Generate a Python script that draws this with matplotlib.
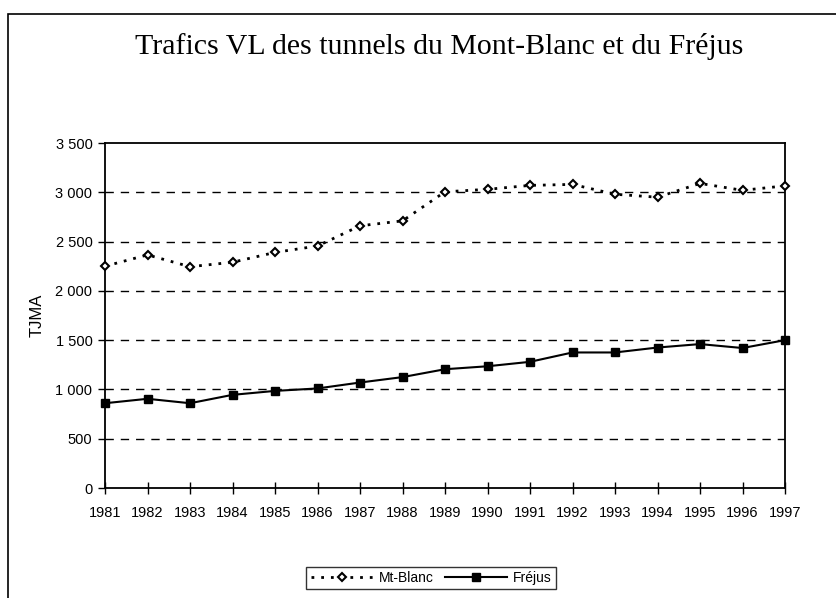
import matplotlib
matplotlib.use("Agg")
import matplotlib.pyplot as plt
from matplotlib.patches import Rectangle
from matplotlib.ticker import FuncFormatter

years = list(range(1981, 1998))
mont_blanc = [2250, 2365, 2245, 2290, 2390, 2455, 2660, 2710, 3005, 3030, 3070,
              3080, 2980, 2950, 3090, 3020, 3065]
frejus = [860, 905, 860, 945, 985, 1010, 1070, 1125, 1205, 1235, 1280,
          1375, 1375, 1425, 1460, 1420, 1500]
y_ticks = [0, 500, 1000, 1500, 2000, 2500, 3000, 3500]

plt.rcParams['font.family'] = ['Liberation Sans', 'DejaVu Sans']

fig = plt.figure(figsize=(8.37, 5.98), dpi=100)
ax = fig.add_axes([105 / 837, 1 - 488 / 598, 680 / 837, 345 / 598])

# outer chart frame (cut by the scan on the right and bottom)
fig.patches.append(Rectangle((8 / 837, -0.1), 1.2, 1 - 14 / 598 + 0.1,
                             transform=fig.transFigure, fill=False,
                             edgecolor='black', linewidth=1.2, clip_on=False))

ax.plot(years, mont_blanc, color='black', linestyle=(0, (1, 2.5)), linewidth=2,
        marker='D', markersize=4.5, markerfacecolor='white', markeredgecolor='black',
        markeredgewidth=1.5, label='Mt-Blanc', clip_on=False, zorder=3)
ax.plot(years, frejus, color='black', linestyle='-', linewidth=1.5,
        marker='s', markersize=6, markerfacecolor='black', markeredgecolor='black',
        label='Fréjus', clip_on=False, zorder=3)

ax.set_xlim(1981, 1997)
ax.set_ylim(0, 3500)
ax.set_xticks(years)
ax.set_yticks(y_ticks)
ax.yaxis.set_major_formatter(FuncFormatter(lambda v, p: f"{int(v):,}".replace(",", " ")))
ax.tick_params(axis='x', direction='inout', length=8, width=1, labelsize=10.5, pad=9)
ax.tick_params(axis='y', direction='out', length=5, width=1, labelsize=10.5, pad=4)

for v in y_ticks[1:-1]:
    ax.axhline(v, color='black', linestyle=(0, (6, 5)), linewidth=1, zorder=1)

for s in ax.spines.values():
    s.set_linewidth(1.3)

ax.set_ylabel('TJMA', fontsize=12, labelpad=8)

fig.text(439 / 837, 1 - 47 / 598, 'Trafics VL des tunnels du Mont-Blanc et du Fréjus',
         ha='center', va='center', fontsize=21.5, family=['Liberation Serif', 'DejaVu Serif'])

leg = fig.legend(loc='center', bbox_to_anchor=(431 / 837, 1 - 578 / 598), ncol=2,
                 fontsize=10, frameon=True, fancybox=False, handlelength=4.5,
                 columnspacing=0.8, handletextpad=0.4, borderpad=0.3, borderaxespad=0)
leg.get_frame().set_edgecolor('black')
leg.get_frame().set_linewidth(1)

fig.savefig('out.png', dpi=100)
